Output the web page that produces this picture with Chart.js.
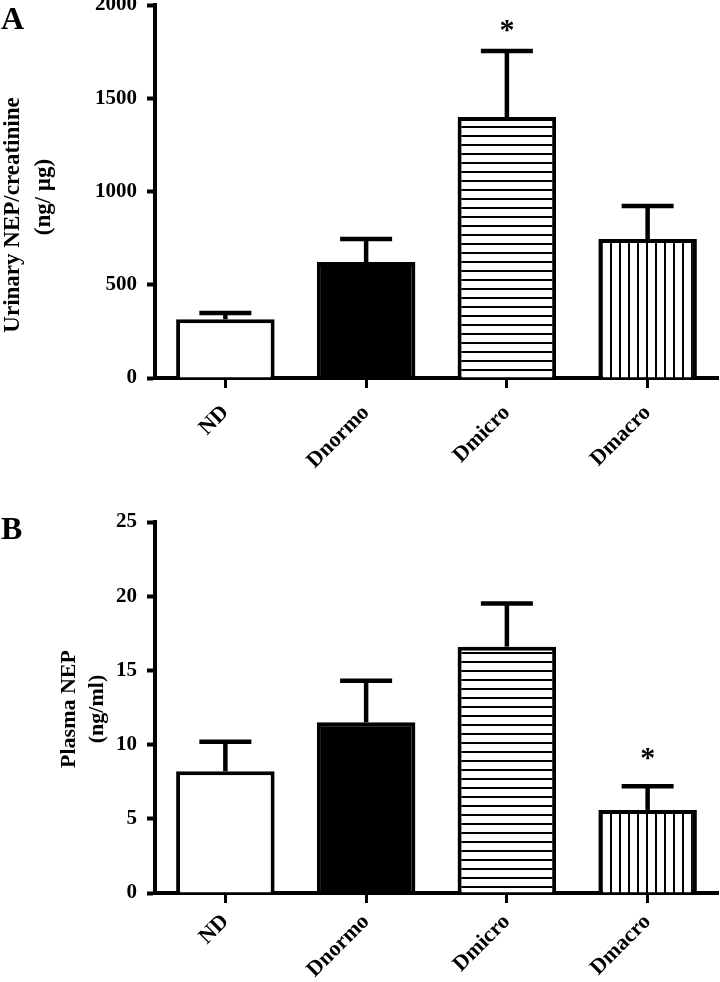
<!DOCTYPE html>
<html><head><meta charset="utf-8">
<script src="https://cdn.jsdelivr.net/npm/chart.js@4.4.1/dist/chart.umd.min.js"></script>
<style>
html,body{margin:0;padding:0;background:#fff;width:720px;height:982px;overflow:hidden;position:relative;}
.letter{position:absolute;font-family:"Liberation Serif";font-weight:bold;font-size:32px;line-height:1;color:#000;}
canvas{position:absolute;left:0;}
</style></head><body>
<canvas id="cA" width="720" height="532" style="top:-25px"></canvas>
<canvas id="cB" width="720" height="490" style="top:492px"></canvas>
<div class="letter" style="left:1px;top:2px">A</div>
<div class="letter" style="left:1px;top:512px">B</div>
<script>
// ---- data ----
const categories = ['ND', 'Dnormo', 'Dmicro', 'Dmacro'];
const urinaryMean  = [315, 622, 1399, 745];
const urinaryUpper = [349, 745, 1753, 922];
const urinarySig   = ['', '', '*', ''];
const urinaryTicks = [0, 500, 1000, 1500, 2000];
const urinaryTitle = ['Urinary NEP/creatinine', '(ng/ µg)'];

const plasmaMean  = [8.2, 11.5, 16.6, 5.6];
const plasmaUpper = [10.2, 14.3, 19.5, 7.2];
const plasmaSig   = ['', '', '', '*'];
const plasmaTicks = [0, 5, 10, 15, 20, 25];
const plasmaTitle = ['Plasma NEP', '(ng/ml)'];

// ---- patterns ----
function hPattern() {
  const c = document.createElement('canvas'); c.width = 9; c.height = 9;
  const g = c.getContext('2d'); g.fillStyle = '#fff'; g.fillRect(0,0,9,9);
  g.fillStyle = '#000'; g.fillRect(0,7,9,2);
  return g.createPattern(c, 'repeat');
}
function vPattern() {
  const c = document.createElement('canvas'); c.width = 9; c.height = 9;
  const g = c.getContext('2d'); g.fillStyle = '#fff'; g.fillRect(0,0,9,9);
  g.fillStyle = '#000'; g.fillRect(7,0,2,9);
  return g.createPattern(c, 'repeat');
}

const FONT = 'Liberation Serif';

const decor = {
  id: 'decor',
  afterDatasetsDraw(chart, args, o) {
    const ctx = chart.ctx, xs = chart.scales.x, ys = chart.scales.y;
    ctx.save();
    ctx.strokeStyle = '#000'; ctx.fillStyle = '#000'; ctx.lineCap = 'butt';
    o.mean.forEach((m, i) => {
      const x = xs.getPixelForValue(i);
      const y0 = ys.getPixelForValue(m), y1 = ys.getPixelForValue(o.upper[i]);
      ctx.lineWidth = 4.5;
      ctx.beginPath(); ctx.moveTo(x, y0); ctx.lineTo(x, y1); ctx.stroke();
      ctx.beginPath(); ctx.moveTo(x - 26, y1); ctx.lineTo(x + 26, y1); ctx.stroke();
      if (o.sig[i]) {
        ctx.font = 'bold 30px "' + FONT + '"';
        ctx.textAlign = 'center'; ctx.textBaseline = 'middle';
        ctx.fillText(o.sig[i], x, y1 - o.sigGap);
      }
    });
    ctx.font = 'bold ' + o.titleSize + 'px "' + FONT + '"';
    o.title.forEach((t, k) => {
      ctx.save();
      ctx.translate(o.titlePos[k][0], o.titlePos[k][1]);
      ctx.rotate(-Math.PI / 2);
      ctx.textAlign = 'center'; ctx.textBaseline = 'middle';
      ctx.fillText(t, 0, 0);
      ctx.restore();
    });
    ctx.restore();
  }
};

function makeChart(id, mean, upper, sig, ticks, title, titlePos, titleSize, ymax, xH, sigGap, labPad) {
  return new Chart(document.getElementById(id), {
    type: 'bar',
    data: {
      labels: categories,
      datasets: [{
        data: mean,
        backgroundColor: ['#ffffff', '#000000', hPattern(), vPattern()],
        borderColor: '#000',
        borderWidth: 4,
        borderSkipped: 'start',
        barPercentage: 0.70,
        categoryPercentage: 1.0
      }]
    },
    options: {
      responsive: false,
      animation: false,
      layout: { padding: { left: 0, right: 2, top: 30, bottom: 0 } },
      plugins: {
        legend: { display: false },
        tooltip: { enabled: false },
        decor: { mean, upper, sig, title, titlePos, titleSize, sigGap }
      },
      scales: {
        x: {
          offset: true,
          grid: { display: true, drawOnChartArea: false, drawTicks: true, tickLength: 10, tickWidth: 3, tickColor: '#000', offset: false },
          border: { display: true, color: '#000', width: 4 },
          ticks: { color: '#000', font: { family: FONT, weight: 'bold', size: 22 }, minRotation: 45, maxRotation: 45, padding: labPad, autoSkip: false },
          afterFit: s => { s.height = xH; }
        },
        y: {
          min: 0, max: ymax,
          grid: { drawOnChartArea: false, drawTicks: true, tickLength: 8, tickWidth: 4, tickColor: '#000' },
          border: { display: true, color: '#000', width: 4 },
          ticks: { color: '#000', font: { family: FONT, weight: 'bold', size: 21 }, padding: 10,
                   callback: v => String(v) },
          afterBuildTicks: s => { s.ticks = ticks.map(v => ({ value: v })); },
          afterFit: s => { s.width = 155; }
        }
      }
    },
    plugins: [decor]
  });
}

makeChart('cA', urinaryMean, urinaryUpper, urinarySig, urinaryTicks, urinaryTitle,
  [[13, 240], [44, 222]], 23, 2000, 129, 20, 12);
makeChart('cB', plasmaMean, plasmaUpper, plasmaSig, plasmaTicks, plasmaTitle,
  [[69, 217], [97, 217]], 22, 25, 89, 27, 6);
</script>
</body></html>
